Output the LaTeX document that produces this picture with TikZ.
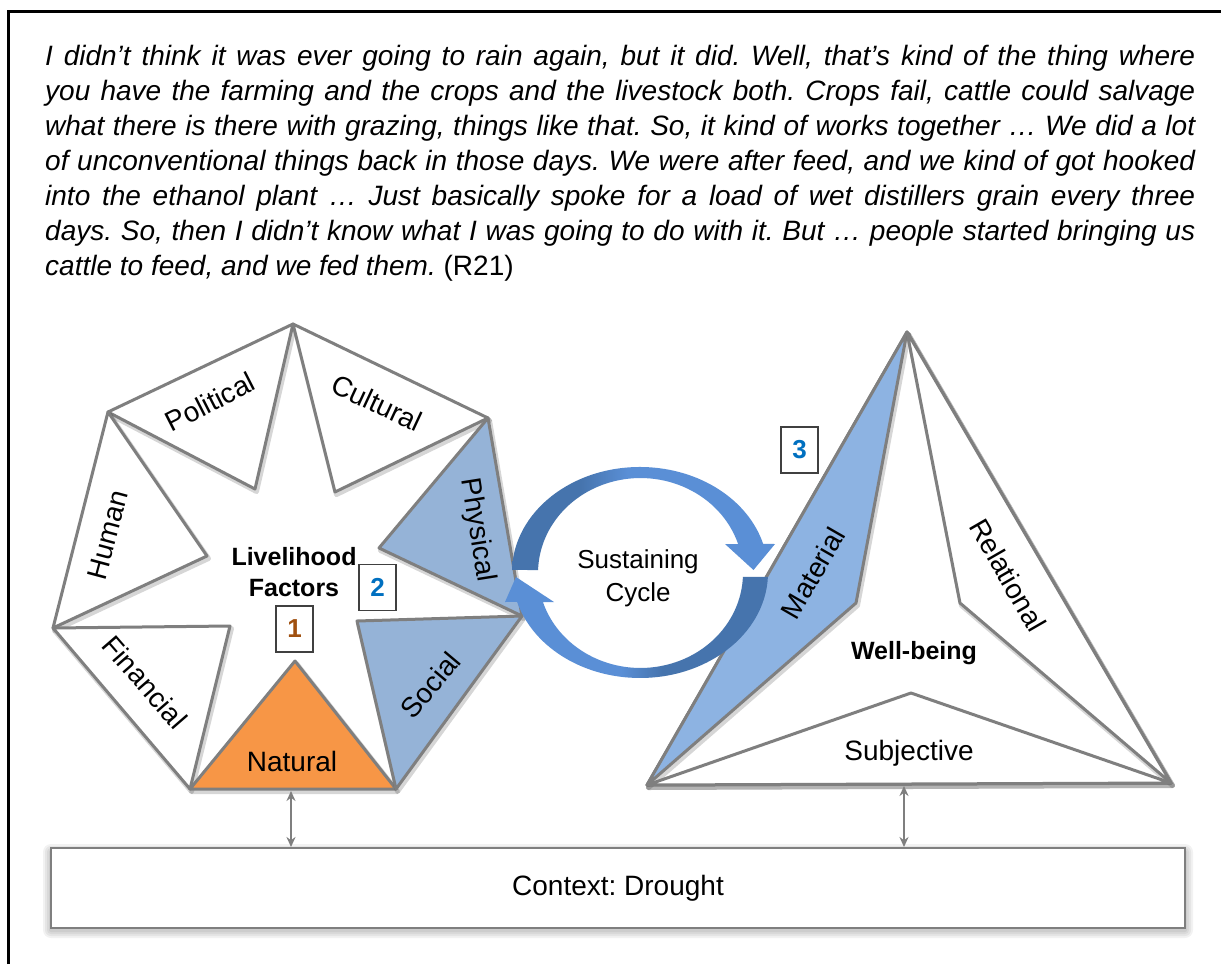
\documentclass[tikz,border=0pt]{standalone}
\usepackage{fontspec}
\setmainfont{Liberation Sans}
\usetikzlibrary{arrows.meta}

\definecolor{edge}{HTML}{7F7F7F}
\definecolor{natfill}{HTML}{F79646}
\definecolor{capfill}{HTML}{95B3D7}
\definecolor{matfill}{HTML}{8DB3E2}
\definecolor{cycdark}{HTML}{4674AD}
\definecolor{cyclight}{HTML}{5A8FD6}
\definecolor{numbrown}{HTML}{A0500F}
\definecolor{numblue}{HTML}{0070C0}

% shadings for the two halves of the cycle arrow (path spans 25bp--75bp)
\pgfdeclarehorizontalshading{cyctop}{100bp}{color(0bp)=(cycdark); color(38bp)=(cycdark); color(47bp)=(cyclight); color(100bp)=(cyclight)}
\pgfdeclarehorizontalshading{cycbot}{100bp}{color(0bp)=(cyclight); color(47bp)=(cyclight); color(55bp)=(cycdark); color(100bp)=(cycdark)}

\frenchspacing
\begin{document}
\begin{tikzpicture}[x=1pt,y=-1pt,
  shadowed/.style={preaction={draw=black, draw opacity=0.16, fill=none, line width=5pt, line join=round,
                   transform canvas={shift={(1.5pt,-2.5pt)}}}},
  facet/.style={shadowed, draw=edge, line width=3pt, line join=round, fill=white},
  lbl/.style={inner sep=0pt, font=\fontsize{28}{30}\selectfont},
  boldlbl/.style={inner sep=0pt, font=\bfseries\fontsize{25}{30}\selectfont},
  quote/.style={inner sep=0pt, anchor=base west, font=\itshape\fontsize{28}{35}\selectfont},
  numbox/.style={draw=black!75, line width=1.2pt, fill=white, minimum width=37pt, minimum height=46pt, inner sep=0pt, font=\bfseries\fontsize{26}{26}\selectfont},
  link/.style={draw=edge, line width=2pt, {Stealth[length=10pt,width=9pt]}-{Stealth[length=10pt,width=9pt]}}]

\useasboundingbox (0,0) rectangle (1221,964);
\fill[white] (0,0) rectangle (1221,964);

% frame
\draw[line width=3pt] (8.5,964) -- (8.5,11.5) -- (1221,11.5);

% quotation
\node[quote] (q1) at (45,65) {\makebox[1150pt][s]{I didn’t think it was ever going to rain again, but it did. Well, that’s kind of the thing where}};
\node[quote] (q2) at (45,100) {\makebox[1150pt][s]{you have the farming and the crops and the livestock both. Crops fail, cattle could salvage}};
\node[quote] (q3) at (45,135) {\makebox[1150pt][s]{what there is there with grazing, things like that. So, it kind of works together … We did a lot}};
\node[quote] (q4) at (45,170) {\makebox[1150pt][s]{of unconventional things back in those days. We were after feed, and we kind of got hooked}};
\node[quote] (q5) at (45,205) {\makebox[1150pt][s]{into the ethanol plant … Just basically spoke for a load of wet distillers grain every three}};
\node[quote] (q6) at (45,240) {\makebox[1150pt][s]{days. So, then I didn’t know what I was going to do with it. But … people started bringing us}};
\node[quote] (q7) at (45,275) {cattle to feed, and we fed them.\upshape{} (R21)};

% livelihood heptagon: outer corners
\coordinate (hT)  at (293,324);
\coordinate (hUL) at (108,412);
\coordinate (hUR) at (488,418);
\coordinate (hL)  at (53,628);
\coordinate (hR)  at (522,616);
\coordinate (hBL) at (190,789);
\coordinate (hBR) at (396,789);

\path[facet] (hUL) -- (hT) -- (255,489) -- cycle;            % political
\path[facet] (hT) -- (hUR) -- (335,492) -- cycle;            % cultural
\path[facet] (hUL) -- (hL) -- (207,556) -- cycle;            % human
\path[facet, fill=capfill] (hUR) -- (hR) -- (379,548) -- cycle; % physical
\path[facet] (hL) -- (hBL) -- (230,626) -- cycle;            % financial
\path[facet, fill=natfill] (hBL) -- (hBR) -- (295,661) -- cycle; % natural
\path[facet, fill=capfill] (hR) -- (hBR) -- (357,621) -- cycle;  % social

\node[lbl, rotate=27]  (political) at (210,402) {Political};
\node[lbl, rotate=-25] (cultural)  at (377,403) {Cultural};
\node[lbl, rotate=75]  (human)     at (108,535) {Human};
\node[lbl, rotate=-81] (physical)  at (477,530) {Physical};
\node[lbl, rotate=-49] (financial) at (145,682) {Financial};
\node[lbl]             (natural)   at (292,761) {Natural};
\node[lbl, rotate=50]  (social)    at (430,685) {Social};

\node[boldlbl] (livelihood) at (294,557) {Livelihood};
\node[boldlbl] (factors)    at (294,588) {Factors};

\node[numbox, text=numbrown] (n1) at (294.5,629) {1};
\node[numbox, text=numblue]  (n2) at (377.5,587.5) {2};

% well-being triangle
\coordinate (wA)  at (907,332);
\coordinate (wBL) at (647,785);
\coordinate (wBR) at (1171,783);

\path[facet] (wA) -- (wBL) -- (wBR) -- cycle;
\path[facet, fill=matfill] (wBL) -- (wA) -- (856,603) -- cycle;  % material
\path[facet] (wA) -- (960,603) -- (wBR) -- cycle;                % relational
\path[facet] (wBL) -- (911,693) -- (wBR) -- cycle;               % subjective

\node[lbl, rotate=60]  (material)   at (813,573) {Material};
\node[lbl, rotate=-60] (relational) at (1008,575) {Relational};
\node[boldlbl]         (wellbeing)  at (914,653) {Well-being};
\node[lbl]             (subjective) at (909,753) {Subjective};

\node[numbox, text=numblue] (n3) at (799.5,450) {3};

% sustaining cycle: two curved block arrows
\shade[shading=cyctop]
  (512.0,569.9) arc[start angle=181.4, end angle=344.3, x radius=128, y radius=105.5]
  -- (775,544) -- (753.5,570) -- (725,544) -- (738.1,544)
  arc[start angle=342.2, end angle=181.8, x radius=102.5, y radius=95] -- cycle;
\shade[shading=cycbot]
  (767.9,576.9) arc[start angle=2.4, end angle=163.8, x radius=128, y radius=105.5]
  -- (505,602) -- (516,577) -- (554,602) -- (542.9,602)
  arc[start angle=162.2, end angle=2.4, x radius=102.5, y radius=95] -- cycle;

\node[lbl, font=\fontsize{26}{30}\selectfont] (sust) at (638,562) {Sustaining};
\node[lbl, font=\fontsize{26}{30}\selectfont] (cyc)  at (638,595) {Cycle};

% context box with soft shadow
\foreach \s in {2,4,6,8}
  \fill[black, opacity=0.05, rounded corners=\s pt] (51-\s,848-\s+4) rectangle (1185+\s,928+\s+2);
\node[draw=edge, line width=2pt, fill=white, minimum width=1134pt, minimum height=80pt, inner sep=0pt,
      font=\fontsize{28}{30}\selectfont] (ctx) at (618,888) {Context: Drought};

% links to the context
\coordinate (natbase) at (291,791);
\coordinate (wbbase)  at (904,786);
\draw[link] (natbase) -- (natbase |- ctx.north);
\draw[link] (wbbase) -- (wbbase |- ctx.north);

\end{tikzpicture}
\end{document}
